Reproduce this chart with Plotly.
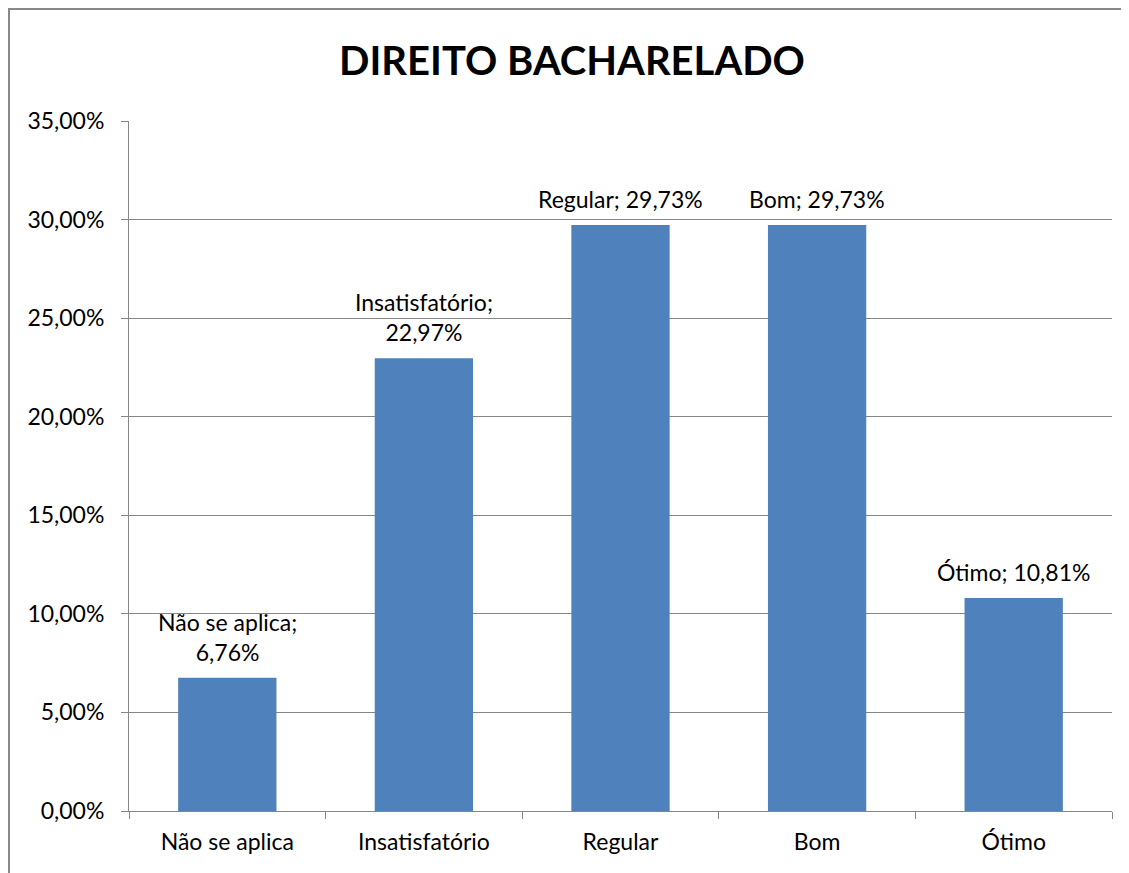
import plotly.graph_objects as go

categories = ["Não se aplica", "Insatisfatório", "Regular", "Bom", "Ótimo"]
values = [0.0676, 0.2297, 0.2973, 0.2973, 0.1081]
wrap_label = [True, True, False, False, False]

def fmt(v):
    return f"{v*100:.2f}".replace(".", ",") + "%"

texts = [f"{c};<br>{fmt(v)}" if w else f"{c}; {fmt(v)}" for c, v, w in zip(categories, values, wrap_label)]

FONT = "Lato, 'Open Sans', sans-serif"
FS = 23

fig = go.Figure(go.Bar(
    x=categories, y=values, width=0.5,
    marker=dict(color="#4F81BD", line=dict(width=0)),
    hoverinfo="skip",
))

for c, v, t in zip(categories, values, texts):
    fig.add_annotation(x=c, y=v, text=t, showarrow=False, xanchor="center",
                       yanchor="bottom", yshift=10,
                       font=dict(family=FONT, size=FS, color="#000000"))

# page offset of 8px (body margin)
OFF = 8
W, H = 1129 - OFF, 873 - OFF
L, R, T, B = 129 - OFF, 1112 - OFF, 121 - OFF, 811 - OFF
pw, ph = R - L, B - T

fig.update_layout(
    width=W, height=H,
    margin=dict(l=L, r=W - R, t=T, b=H - B, autoexpand=False),
    paper_bgcolor="white", plot_bgcolor="white",
    separators=",.",
    showlegend=False,
    font=dict(family=FONT, size=FS, color="#000000"),
    title=dict(text="<b>DIREITO BACHARELADO</b>", x=(572 - OFF) / W, xanchor="center",
               y=1 - (61 - OFF) / H, yanchor="middle", yref="container",
               font=dict(family=FONT, size=40, color="#000000")),
    xaxis=dict(type="category", showline=True, linecolor="#868686", linewidth=1,
               ticks="outside", tickson="boundaries", ticklen=7, tickcolor="#868686",
               ticklabelstandoff=10,
               showgrid=False, tickfont=dict(family=FONT, size=FS), fixedrange=True),
    yaxis=dict(range=[0, 0.35], dtick=0.05, tickformat=".2%", showline=True,
               linecolor="#868686", linewidth=1, ticks="outside", ticklen=7,
               tickcolor="#868686", showgrid=True, gridcolor="#868686", gridwidth=1,
               ticklabelstandoff=12,
               zeroline=False, tickfont=dict(family=FONT, size=FS), fixedrange=True),
    shapes=[dict(type="rect", xref="paper", yref="paper",
                 x0=(1 - L) / pw, x1=(W + 20 - L) / pw,
                 y0=(B - (H + 20)) / ph, y1=(B - 1) / ph,
                 line=dict(color="#888888", width=2), fillcolor="rgba(0,0,0,0)", layer="below")],
)

fig.write_html("out.html")
